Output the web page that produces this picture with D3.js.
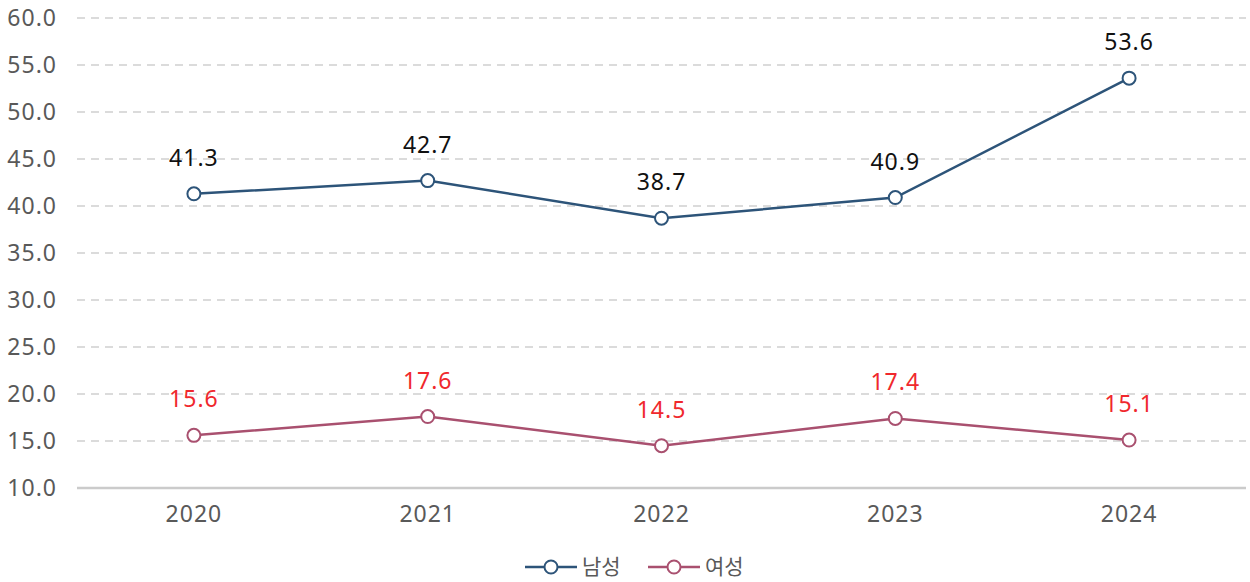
<!DOCTYPE html>
<html>
<head>
<meta charset="utf-8">
<script src="https://cdn.jsdelivr.net/npm/d3@7"></script>
<style>
  html, body { margin: 0; padding: 0; background: #ffffff; }
  svg { display: block; font-family: "Noto Sans", "Noto Sans CJK KR", sans-serif; }
</style>
</head>
<body>
<svg id="chart" width="1250" height="582"></svg>
<script>
// Years along the x axis
const years = ["2020", "2021", "2022", "2023", "2024"];
// Male / female values per year
const maleValues = [41.3, 42.7, 38.7, 40.9, 53.6];
const femaleValues = [15.6, 17.6, 14.5, 17.4, 15.1];
// Y axis ticks
const yTicks = [10, 15, 20, 25, 30, 35, 40, 45, 50, 55, 60];
const seriesNames = ["남성", "여성"];

const series = [
  { name: seriesNames[0], values: maleValues, color: "#2D5479", labelColor: "#111111" },
  { name: seriesNames[1], values: femaleValues, color: "#A9506F", labelColor: "#F0282D" }
];

const svg = d3.select("#chart");
const plot = { left: 77, right: 1246, top: 18, bottom: 488 };

const x = d3.scaleBand().domain(years).range([plot.left, plot.right]);
const y = d3.scaleLinear().domain([10, 60]).range([plot.bottom, plot.top]);
const cx = d => x(d) + x.bandwidth() / 2;

// Gridlines (dashed), baseline solid
const grid = svg.append("g");
grid.selectAll("line")
  .data(yTicks.filter(t => t !== 10))
  .join("line")
  .attr("x1", plot.left).attr("x2", plot.right)
  .attr("y1", d => y(d)).attr("y2", d => y(d))
  .attr("stroke", "#D0D0D0").attr("stroke-width", 1.5)
  .attr("stroke-dasharray", "8,6");

svg.append("line")
  .attr("x1", plot.left).attr("x2", plot.right)
  .attr("y1", y(10)).attr("y2", y(10))
  .attr("stroke", "#CBCBCB").attr("stroke-width", 2.5);

const axisFont = sel => sel.attr("fill", "#595959").attr("font-size", 23)
  .attr("font-family", "Noto Sans").attr("letter-spacing", "1px");

// Y axis labels
const yAxis = d3.axisLeft(y).tickValues(yTicks).tickFormat(d3.format(".1f")).tickSize(0).tickPadding(0);
const yg = svg.append("g").attr("transform", "translate(57,0)").call(yAxis);
yg.select(".domain").remove();
yg.selectAll("text").call(axisFont);

// X axis labels
const xAxis = d3.axisBottom(x).tickSize(0).tickPadding(0);
const xg = svg.append("g").attr("transform", `translate(0,${plot.bottom + 18})`).call(xAxis);
xg.select(".domain").remove();
xg.selectAll("text").call(axisFont);

// Lines, markers and value labels
const line = d3.line().x((d, i) => cx(years[i])).y(d => y(d));
series.forEach(s => {
  const g = svg.append("g");
  g.append("path").attr("d", line(s.values))
    .attr("fill", "none").attr("stroke", s.color).attr("stroke-width", 2.5);
  g.selectAll("circle").data(s.values).join("circle")
    .attr("cx", (d, i) => cx(years[i])).attr("cy", d => y(d)).attr("r", 6.5)
    .attr("fill", "#ffffff").attr("stroke", s.color).attr("stroke-width", 2);
  g.selectAll("text").data(s.values).join("text")
    .attr("x", (d, i) => cx(years[i])).attr("y", d => y(d) - 28)
    .attr("text-anchor", "middle").attr("font-size", 23)
    .attr("letter-spacing", "1px")
    .attr("fill", s.labelColor)
    .text(d => d.toFixed(1));
});

// Legend
const legendItems = [{ s: series[0], x: 525 }, { s: series[1], x: 648 }];
const ly = 567;
legendItems.forEach(({ s, x: lx }) => {
  const g = svg.append("g");
  g.append("line").attr("x1", lx).attr("x2", lx + 52).attr("y1", ly).attr("y2", ly)
    .attr("stroke", s.color).attr("stroke-width", 2.5);
  g.append("circle").attr("cx", lx + 26).attr("cy", ly).attr("r", 6.5)
    .attr("fill", "#ffffff").attr("stroke", s.color).attr("stroke-width", 2);
  g.append("text").attr("x", lx + 57).attr("y", ly).attr("dy", "0.35em")
    .attr("font-family", "Noto Sans CJK KR")
    .attr("font-size", 21).attr("fill", "#595959").text(s.name);
});
</script>
</body>
</html>
